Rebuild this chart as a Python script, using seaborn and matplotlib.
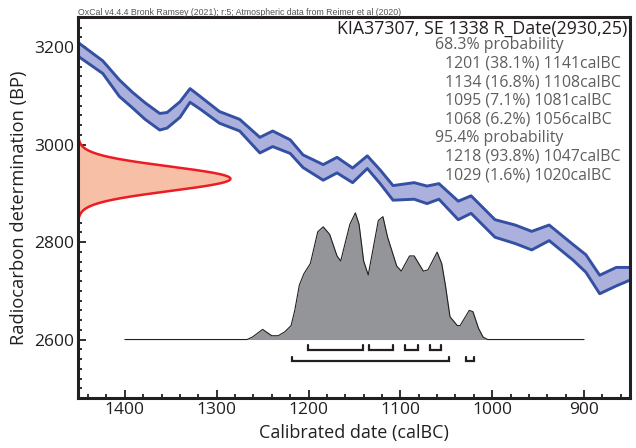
import matplotlib
matplotlib.use('Agg')
import matplotlib.pyplot as plt
import seaborn as sns
import numpy as np
import pandas as pd
from matplotlib.ticker import MultipleLocator

# ---------------------------------------------------------------
# data
# ---------------------------------------------------------------
# calibration curve (IntCal20 band): calBC, BP mean, 1 sigma
cal_year = [1451, 1449, 1424, 1406, 1392, 1378, 1362, 1354, 1340, 1329, 1318,
            1297, 1275, 1253, 1239, 1220, 1206, 1184, 1169, 1152, 1136, 1122,
            1108, 1085, 1071, 1058, 1037, 1023, 997, 975, 957, 938, 912, 898,
            883, 865, 850]
cal_bp = [3197, 3193, 3159, 3116, 3092, 3069, 3047, 3050, 3072, 3101, 3086,
          3056, 3040, 2999, 3012, 2996, 2966, 2943, 2958, 2937, 2964, 2934,
          2901, 2905, 2897, 2904, 2865, 2877, 2828, 2816, 2803, 2819, 2779, 2756,
          2713, 2729, 2735]
cal_err = [14, 14, 13, 17, 16, 17, 17, 16, 16, 14, 13,
           12, 12, 16, 16, 14, 13, 16, 16, 15, 13, 14,
           15, 17, 18, 16, 19, 18, 18, 19, 19, 16, 16, 18,
           19, 19, 13]

# radiocarbon measurement
rd_title = 'KIA37307, SE 1338 R_Date(2930,25)'
rd_mean = 2930
rd_sigma = 25

# calibrated (posterior) probability, relative to the maximum
post_year = [1400, 1267, 1261, 1250, 1240, 1233, 1226, 1219, 1215, 1210, 1205,
             1198, 1190, 1184, 1177, 1169, 1165, 1155, 1149, 1145, 1140, 1135,
             1124, 1119, 1114, 1104, 1099, 1090, 1085, 1075, 1070, 1060, 1055,
             1051, 1046, 1038, 1035, 1025, 1021, 1015, 1010, 1005, 900]
post_prob = [0.0, 0.0, 0.02, 0.08, 0.03, 0.03, 0.06, 0.11, 0.23, 0.43, 0.52,
             0.60, 0.85, 0.89, 0.83, 0.66, 0.62, 0.91, 1.0, 0.91, 0.62, 0.51,
             0.94, 0.97, 0.81, 0.58, 0.54, 0.66, 0.66, 0.54, 0.55, 0.69, 0.60,
             0.43, 0.18, 0.11, 0.11, 0.23, 0.22, 0.09, 0.02, 0.0, 0.0]

range68 = [(1201, 1141), (1134, 1108), (1095, 1081), (1068, 1056)]
range68_pct = [38.1, 16.8, 7.1, 6.2]
range95 = [(1218, 1047), (1029, 1020)]
range95_pct = [93.8, 1.6]

credit = 'OxCal v4.4.4 Bronk Ramsey (2021); r:5; Atmospheric data from Reimer et al (2020)'

# ---------------------------------------------------------------
sns.set_style('ticks')
plt.rcParams['font.family'] = ['Open Sans', 'DejaVu Sans']

fig = plt.figure(figsize=(6.36, 4.48), dpi=100)
ax = fig.add_axes([78 / 636, 50 / 448, 552 / 636, 381 / 448])

xmin, xmax = 1451, 850
ax.set_xlim(xmin, xmax)
ax.set_ylim(2480, 3262)

# calibration curve band
cal = pd.DataFrame({'year': cal_year,
                    'upper': np.array(cal_bp) + np.array(cal_err),
                    'lower': np.array(cal_bp) - np.array(cal_err)})
ax.fill_between(cal['year'], cal['lower'], cal['upper'], color='#abb0dc', lw=0)
for col in ['upper', 'lower']:
    sns.lineplot(data=cal, x='year', y=col, ax=ax, color='#3450a3', lw=2.1,
                 sort=False, estimator=None)

# radiocarbon date on the y axis
bp = np.linspace(rd_mean - 3.6 * rd_sigma, rd_mean + 3.6 * rd_sigma, 300)
dens = np.exp(-0.5 * ((bp - rd_mean) / rd_sigma) ** 2)
xr = xmin - dens * 166
ax.fill_betweenx(bp, xmin, xr, color='#f8bfa7', lw=0)
sns.lineplot(x=xr, y=bp, ax=ax, color='#ec1c24', lw=1.8, sort=False, estimator=None)

# calibrated distribution
base = 2600
post = pd.DataFrame({'year': post_year, 'top': base + np.array(post_prob) * 260})
ax.fill_between(post['year'], base, post['top'], color='#939598', lw=0)
sns.lineplot(data=post, x='year', y='top', ax=ax, color='#231f20', lw=0.8,
             sort=False, estimator=None)

# range brackets
for ranges, low, high in [(range68, 2579.5, 2588), (range95, 2555, 2565)]:
    for a, b in ranges:
        ax.plot([a, a, b, b], [high, low, low, high], color='#231f20', lw=1.6,
                solid_joinstyle='miter')

# axes styling
ax.xaxis.set_major_locator(MultipleLocator(100))
ax.xaxis.set_minor_locator(MultipleLocator(20))
ax.yaxis.set_major_locator(MultipleLocator(200))
ax.yaxis.set_minor_locator(MultipleLocator(20))
ax.tick_params(which='both', direction='in', top=False, right=False,
               color='#231f20', width=1.3, labelsize=12.5, labelcolor='#231f20')
ax.tick_params(which='major', length=5.5, pad=3)
ax.tick_params(which='minor', length=2.8)
for s in ax.spines.values():
    s.set_linewidth(2.2)
    s.set_color('#231f20')

ax.set_xlabel('Calibrated date (calBC)', fontsize=13, color='#231f20')
ax.set_ylabel('Radiocarbon determination (BP)', fontsize=13.2, color='#231f20')

# text block
ax.text(0.995, 0.968, rd_title, transform=ax.transAxes, ha='right', va='center',
        fontsize=12.8, color='#231f20')
lines = [('68.3% probability', 0)]
for (a, b), p in zip(range68, range68_pct):
    lines.append(('%d (%.1f%%) %dcalBC' % (a, p, b), 1))
lines.append(('95.4% probability', 0))
for (a, b), p in zip(range95, range95_pct):
    lines.append(('%d (%.1f%%) %dcalBC' % (a, p, b), 1))
for i, (txt, indent) in enumerate(lines):
    ypix = 45 + i * 18.6
    ax.text((435 + indent * 10 - 78) / 552, (398 - ypix) / 381, txt,
            transform=ax.transAxes, ha='left', va='center', fontsize=11.4,
            color='#5e5e5e')

fig.text(78 / 636, 1 - 15 / 448, credit, fontsize=6.3, color='#555555',
         family=['Liberation Sans Narrow', 'Liberation Sans'], va='baseline')

fig.savefig('out.png', dpi=100)
